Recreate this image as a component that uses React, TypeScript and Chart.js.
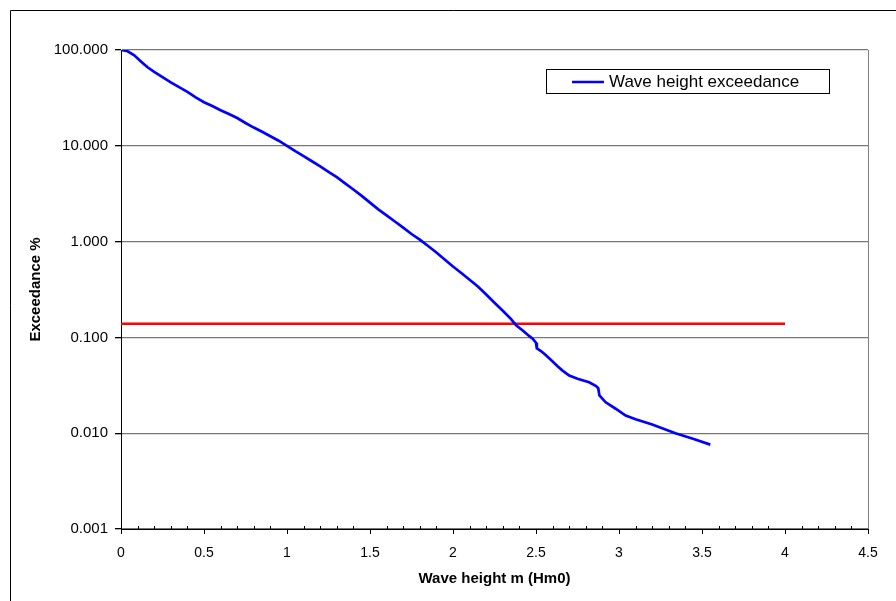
import React, { useEffect, useRef } from "react";
import { Chart, registerables } from "chart.js";

Chart.register(...registerables);

const waveHeight = [
  0.0, 0.04, 0.08, 0.12, 0.16, 0.2, 0.25, 0.3, 0.35, 0.4, 0.45, 0.5, 0.55, 0.6, 0.65, 0.7, 0.75, 0.8, 0.85, 0.9,
  0.95, 1.0, 1.05, 1.1, 1.15, 1.2, 1.25, 1.3, 1.35, 1.4, 1.45, 1.5, 1.55, 1.6, 1.65, 1.7, 1.75, 1.8, 1.85, 1.9,
  1.95, 2.0, 2.05, 2.1, 2.15, 2.2, 2.25, 2.3, 2.35, 2.38, 2.42, 2.46, 2.48, 2.5, 2.505, 2.53, 2.56, 2.6, 2.63,
  2.66, 2.7, 2.75, 2.82, 2.862, 2.875, 2.882, 2.92, 2.98, 3.04, 3.1, 3.2, 3.34, 3.45, 3.55,
];
const exceedance = [
  100, 97, 88, 76, 66, 59, 52, 46, 41, 36.5, 32, 28.5, 26, 23.5, 21.5, 19.5, 17.3, 15.5, 14, 12.6,
  11.3, 10.0, 8.8, 7.8, 6.9, 6.1, 5.35, 4.7, 4.05, 3.5, 3.0, 2.55, 2.17, 1.88, 1.62, 1.4, 1.2, 1.05, 0.9, 0.77,
  0.65, 0.55, 0.47, 0.4, 0.34, 0.28, 0.23, 0.19, 0.155, 0.134, 0.118, 0.103, 0.097, 0.088, 0.077, 0.072, 0.065, 0.056, 0.05,
  0.045, 0.04, 0.037, 0.034, 0.031, 0.0295, 0.0248, 0.021, 0.018, 0.0153, 0.014, 0.0123, 0.01, 0.0087, 0.0076,
];
const thresholdX = [0, 4];
const thresholdY = [0.139, 0.139];
const yTickValues = [0.001, 0.01, 0.1, 1, 10, 100];
const minorXTicks = [0.1, 0.2, 0.3, 0.4, 0.6, 0.7, 0.8, 0.9, 1.1, 1.2, 1.3, 1.4, 1.6, 1.7, 1.8, 1.9, 2.1, 2.2, 2.3, 2.4, 2.6, 2.7, 2.8, 2.9, 3.1, 3.2, 3.3, 3.4, 3.6, 3.7, 3.8, 3.9, 4.1, 4.2, 4.3, 4.4];
const seriesLabel = "Wave height exceedance";

const FONT = "'Liberation Sans', Arial, sans-serif";

const decorPlugin = {
  id: "decor",
  afterDraw(chart: any) {
    const ctx = chart.ctx;
    const area = chart.chartArea;
    const xs = chart.scales.x;
    ctx.save();
    // outer frame
    ctx.strokeStyle = "#000";
    ctx.lineWidth = 1;
    ctx.beginPath();
    ctx.moveTo(10.5, 601);
    ctx.lineTo(10.5, 10.5);
    ctx.lineTo(896, 10.5);
    ctx.stroke();
    // right border of plot
    ctx.strokeStyle = "#808080";
    ctx.beginPath();
    ctx.moveTo(Math.round(area.right) + 0.5, area.top);
    ctx.lineTo(Math.round(area.right) + 0.5, area.bottom);
    ctx.stroke();
    // minor ticks
    ctx.strokeStyle = "#000";
    ctx.beginPath();
    for (const v of minorXTicks) {
      const px = Math.round(xs.getPixelForValue(v)) + 0.5;
      ctx.moveTo(px, area.bottom);
      ctx.lineTo(px, area.bottom - 3);
    }
    ctx.stroke();
    // legend
    const lx = 546, ly = 69, lw = 283, lh = 24;
    ctx.fillStyle = "#fff";
    ctx.fillRect(lx, ly, lw, lh);
    ctx.strokeStyle = "#000";
    ctx.strokeRect(lx + 0.5, ly + 0.5, lw, lh);
    ctx.strokeStyle = "#0000ff";
    ctx.lineWidth = 2.5;
    ctx.beginPath();
    ctx.moveTo(572, 82);
    ctx.lineTo(604, 82);
    ctx.stroke();
    ctx.fillStyle = "#000";
    ctx.font = `17px ${FONT}`;
    ctx.textBaseline = "middle";
    ctx.textAlign = "left";
    ctx.fillText(seriesLabel, 609, 82);
    ctx.restore();
  },
};

export default function App() {
  const ref = useRef<HTMLCanvasElement>(null);
  useEffect(() => {
    if (!ref.current) return;
    const chart = new Chart(ref.current, {
      type: "line",
      data: {
        datasets: [
          {
            label: seriesLabel,
            data: waveHeight.map((x, i) => ({ x, y: exceedance[i] })),
            borderColor: "#0000ff",
            borderWidth: 2.7,
            pointRadius: 0,
            tension: 0,
            fill: false,
          },
          {
            label: "Threshold",
            data: thresholdX.map((x, i) => ({ x, y: thresholdY[i] })),
            borderColor: "#ff0000",
            borderWidth: 2.5,
            pointRadius: 0,
            fill: false,
          },
        ],
      },
      options: {
        animation: false,
        responsive: false,
        devicePixelRatio: 1,
        layout: { padding: { left: 0, top: 50, right: 28, bottom: 12 } },
        plugins: { legend: { display: false }, tooltip: { enabled: false } },
        scales: {
          x: {
            type: "linear",
            min: 0,
            max: 4.5,
            afterFit: (s: any) => {
              s.height = 60;
            },
            border: { color: "#000", width: 1 },
            grid: { drawOnChartArea: false, tickLength: 5, tickColor: "#000" },
            ticks: {
              stepSize: 0.5,
              padding: 11,
              color: "#000",
              font: { family: FONT, size: 14 },
              maxRotation: 0,
              callback: (v: any) => `${+Number(v).toFixed(1)}`,
            },
            title: {
              display: true,
              text: "Wave height m (Hm0)",
              color: "#000",
              font: { family: FONT, size: 15, weight: "bold" },
              padding: { top: 0, bottom: 1 },
            },
          },
          y: {
            type: "logarithmic",
            min: 0.001,
            max: 100,
            afterFit: (s: any) => {
              s.width = 121;
            },
            afterBuildTicks: (s: any) => {
              s.ticks = yTickValues.map((value) => ({ value }));
            },
            border: { color: "#000", width: 1 },
            grid: { color: "#777777", lineWidth: 1.3, tickLength: 6, tickColor: "#000" },
            ticks: {
              padding: 7,
              color: "#000",
              font: { family: FONT, size: 15 },
              callback: (v: any) => Number(v).toFixed(3),
            },
            title: {
              display: true,
              text: "Exceedance %",
              color: "#000",
              font: { family: FONT, size: 15, weight: "bold" },
              padding: { top: 27, bottom: 0 },
            },
          },
        },
      },
      plugins: [decorPlugin],
    } as any);
    return () => chart.destroy();
  }, []);
  return (
    <div style={{ position: "absolute", left: 0, top: 0, width: 896, height: 601, background: "#fff" }}>
      <canvas ref={ref} width={896} height={601} style={{ display: "block" }} />
    </div>
  );
}
